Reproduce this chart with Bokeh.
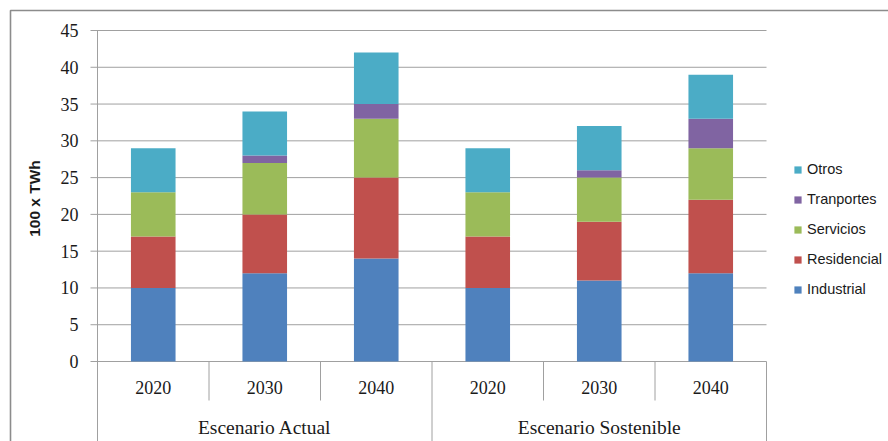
import math
from bokeh.plotting import figure
from bokeh.models import Range1d, Legend, LegendItem, ColumnDataSource
from bokeh.core.properties import value
from bokeh.embed import file_html
from bokeh.resources import INLINE

# ---- data -------------------------------------------------------------
scenarios = ["Escenario Actual", "Escenario Sostenible"]
years = ["2020", "2030", "2040"]
sectors = ["Industrial", "Residencial", "Servicios", "Tranportes", "Otros"]
industrial = [10, 12, 14, 10, 11, 12]
residencial = [7, 8, 11, 7, 8, 10]
servicios = [6, 7, 8, 6, 6, 7]
tranportes = [0, 1, 2, 0, 1, 4]
otros = [6, 6, 7, 6, 6, 6]
y_ticks = [0, 5, 10, 15, 20, 25, 30, 35, 40, 45]
y_title = "100 x TWh"
colors = ["#4F81BD", "#C0504D", "#9BBB59", "#8064A2", "#4BACC6"]

# ---- layout helpers (the frame fills the whole canvas) ----------------
W, H = 888, 441
X0_PX, Y0_PX = 97, 361          # where x=0 / y=0 sit on the canvas
PX_PER_CAT = 111.5
PX_PER_UNIT = 331 / 45

def dx(px):
    return (px - X0_PX) / PX_PER_CAT

def dy(py):
    return (Y0_PX - py) / PX_PER_UNIT

p = figure(width=W, height=H, output_backend="svg", toolbar_location=None,
           x_range=Range1d(dx(0), dx(W)), y_range=Range1d(dy(H), dy(0)),
           min_border=0, min_border_left=0, min_border_right=0,
           min_border_top=0, min_border_bottom=0)
p.axis.visible = False
p.grid.visible = False
p.outline_line_color = None
p.background_fill_color = "white"
p.border_fill_color = "white"

GRID = "#A0A0A0"
n_cat = len(scenarios) * len(years)

# outer chart border
p.line([dx(10), dx(10), dx(W + 5)], [dy(H + 5), dy(10), dy(10)],
       line_color="#8C8C8C", line_width=1.6)

# horizontal gridlines (and the category baseline at 0)
p.segment(x0=[dx(90)] * len(y_ticks), y0=y_ticks,
          x1=[n_cat] * len(y_ticks), y1=y_ticks,
          line_color=GRID, line_width=1)
# value axis line
p.segment(x0=[0], y0=[0], x1=[0], y1=[y_ticks[-1]], line_color=GRID, line_width=1)

# category separators: short ones between years, long ones between scenarios
short_x = [i for i in range(1, n_cat) if i % len(years) != 0]
long_x = [i for i in range(0, n_cat + 1) if i % len(years) == 0]
p.segment(x0=short_x, y0=[0] * len(short_x), x1=short_x, y1=[dy(400)] * len(short_x),
          line_color=GRID, line_width=1)
p.segment(x0=long_x, y0=[0] * len(long_x), x1=long_x, y1=[dy(H + 5)] * len(long_x),
          line_color=GRID, line_width=1)

# stacked bars
centers = [i + 0.5 for i in range(n_cat)]
src = ColumnDataSource(dict(x=centers, Industrial=industrial, Residencial=residencial,
                            Servicios=servicios, Tranportes=tranportes, Otros=otros))
renderers = p.vbar_stack(sectors, x="x", width=0.4, color=colors, source=src,
                         line_color=None)

# value tick labels
p.text(x=[dx(78)] * len(y_ticks), y=y_ticks, text=[str(t) for t in y_ticks],
       text_align="right", text_baseline="middle",
       text_font=value("Liberation Serif"), text_font_size="18px", text_color="#1a1a1a")

# year labels
p.text(x=centers, y=[dy(387)] * n_cat, text=years * len(scenarios),
       text_align="center", text_baseline="middle",
       text_font=value("Liberation Serif"), text_font_size="18px", text_color="#1a1a1a")

# scenario labels
group_centers = [len(years) * (g + 0.5) for g in range(len(scenarios))]
p.text(x=group_centers, y=[dy(427)] * len(scenarios), text=scenarios,
       text_align="center", text_baseline="middle",
       text_font=value("Liberation Serif"), text_font_size="19.5px", text_color="#1a1a1a")

# value axis title
p.text(x=[dx(34)], y=[dy(198)], text=[y_title], angle=math.pi / 2,
       text_align="center", text_baseline="middle",
       text_font=value("Liberation Sans"), text_font_size="15.5px",
       text_font_style="bold", text_color="#1a1a1a")

# legend, top entry = top of the stack
items = [LegendItem(label=s, renderers=[r]) for s, r in zip(sectors, renderers)][::-1]
legend = Legend(items=items, location=(793, H - 299), orientation="vertical",
                padding=0, margin=0, border_line_color=None, background_fill_alpha=0,
                glyph_width=9, glyph_height=9, label_standoff=5,
                label_height=20, spacing=10,
                label_text_font="Liberation Sans", label_text_font_size="14.5px",
                label_text_color="#1a1a1a")
p.add_layout(legend, "center")

open("out.html", "w").write(file_html(p, INLINE))
